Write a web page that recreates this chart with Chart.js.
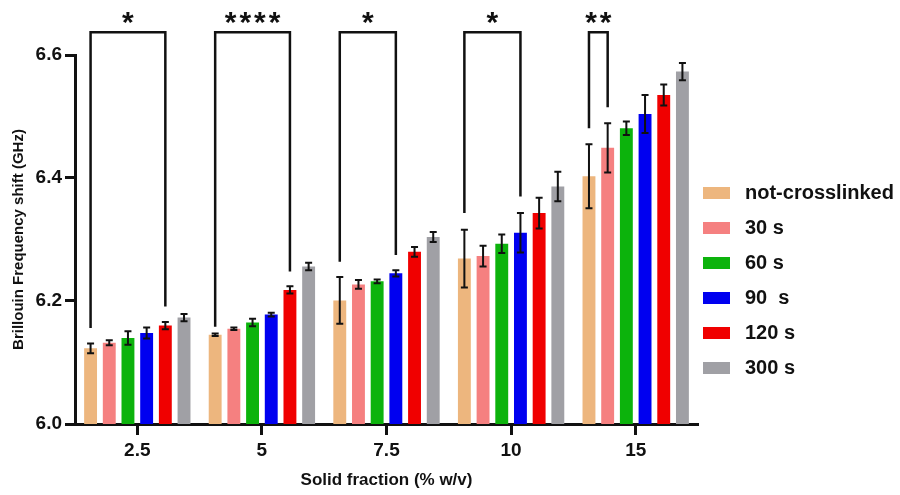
<!DOCTYPE html>
<html>
<head>
<meta charset="utf-8">
<script src="https://cdn.jsdelivr.net/npm/chart.js@4"></script>
<style>
  body { margin: 0; background: #fff; }
  #wrap { position: relative; width: 900px; height: 495px; }
  #legend { position: absolute; left: 703px; top: 175px; font: bold 20px "Liberation Sans", Arial, sans-serif; color: #111; }
  .item { display: flex; align-items: center; height: 35px; white-space: pre; }
  .swatch { width: 27px; height: 12px; margin-right: 15px; }
</style>
</head>
<body>
<div id="wrap">
  <canvas id="chart" width="900" height="495"></canvas>
  <div id="legend"></div>
</div>
<script>
const categories = ['2.5', '5', '7.5', '10', '15'];
const seriesLabels = ['not-crosslinked', '30 s', '60 s', '90  s', '120 s', '300 s'];
const seriesColors = ['#EDB67E', '#F58080', '#0CB30C', '#0000F0', '#F00000', '#A0A0A5'];

const notCrosslinked = [6.123, 6.145, 6.201, 6.269, 6.403];
const s30 = [6.132, 6.155, 6.227, 6.273, 6.449];
const s60 = [6.140, 6.165, 6.232, 6.293, 6.481];
const s90 = [6.148, 6.178, 6.245, 6.311, 6.504];
const s120 = [6.160, 6.218, 6.280, 6.343, 6.535];
const s300 = [6.173, 6.256, 6.304, 6.386, 6.573];

const errNot = [0.008, 0.002, 0.038, 0.047, 0.052];
const err30 = [0.004, 0.002, 0.007, 0.017, 0.040];
const err60 = [0.011, 0.006, 0.003, 0.015, 0.011];
const err90 = [0.009, 0.003, 0.005, 0.032, 0.031];
const err120 = [0.006, 0.006, 0.008, 0.025, 0.017];
const err300 = [0.006, 0.006, 0.008, 0.024, 0.014];

// significance brackets: category, from series, to series
const bracketCat = [0, 1, 2, 3, 4];
const bracketFrom = [0, 0, 0, 0, 0];
const bracketTo = [4, 4, 3, 3, 1];
const bracketTop = [6.637, 6.637, 6.637, 6.637, 6.637];
const bracketLeftEnd = [6.156, 6.158, 6.264, 6.343, 6.481];
const bracketRightEnd = [6.191, 6.248, 6.275, 6.370, 6.515];
const bracketStars = ['*', '****', '*', '*', '**'];

const yTicks = [6.0, 6.2, 6.4, 6.6];

const seriesValues = [notCrosslinked, s30, s60, s90, s120, s300];
const seriesErrors = [errNot, err30, err60, err90, err120, err300];

const FONT = '"Liberation Sans", Arial, sans-serif';

const errorBars = {
  id: 'errorBars',
  afterDatasetsDraw(chart) {
    const { ctx, scales: { y } } = chart;
    ctx.save();
    ctx.strokeStyle = '#111';
    ctx.lineWidth = 2;
    chart.data.datasets.forEach((ds, i) => {
      const meta = chart.getDatasetMeta(i);
      meta.data.forEach((bar, j) => {
        const v = ds.data[j];
        const e = seriesErrors[i][j];
        const top = y.getPixelForValue(v + e);
        const bot = y.getPixelForValue(v - e);
        ctx.beginPath();
        ctx.moveTo(bar.x, top); ctx.lineTo(bar.x, bot);
        ctx.moveTo(bar.x - 3.5, top); ctx.lineTo(bar.x + 3.5, top);
        ctx.moveTo(bar.x - 3.5, bot); ctx.lineTo(bar.x + 3.5, bot);
        ctx.stroke();
      });
    });
    ctx.restore();
  },
};

const brackets = {
  id: 'brackets',
  afterDraw(chart) {
    const { ctx, scales: { y } } = chart;
    ctx.save();
    ctx.strokeStyle = '#111';
    ctx.fillStyle = '#111';
    ctx.lineWidth = 2.5;
    ctx.textAlign = 'center';
    ctx.textBaseline = 'alphabetic';
    ctx.font = 'bold 30px ' + FONT;
    bracketCat.forEach((c, k) => {
      const x1 = chart.getDatasetMeta(bracketFrom[k]).data[c].x;
      const x2 = chart.getDatasetMeta(bracketTo[k]).data[c].x;
      const yt = y.getPixelForValue(bracketTop[k]);
      ctx.beginPath();
      ctx.moveTo(x1, y.getPixelForValue(bracketLeftEnd[k]));
      ctx.lineTo(x1, yt);
      ctx.lineTo(x2, yt);
      ctx.lineTo(x2, y.getPixelForValue(bracketRightEnd[k]));
      ctx.stroke();
      ctx.letterSpacing = '3px';
      ctx.fillText(bracketStars[k], (x1 + x2) / 2 + 1.5, yt);
    });
    ctx.restore();
  },
};

new Chart(document.getElementById('chart'), {
  type: 'bar',
  data: {
    labels: categories,
    datasets: seriesLabels.map((label, i) => ({
      label,
      data: seriesValues[i],
      backgroundColor: seriesColors[i],
      borderWidth: 0,
      categoryPercentage: 0.9,
      barPercentage: 0.69,
    })),
  },
  options: {
    responsive: false,
    animation: false,
    layout: { padding: { top: 55, right: 202, left: 0, bottom: 0 } },
    plugins: { legend: { display: false }, tooltip: { enabled: false } },
    scales: {
      x: {
        border: { display: true, color: '#111', width: 3 },
        grid: { display: true, offset: false, drawOnChartArea: false, drawTicks: true, tickLength: 11, tickWidth: 3, tickColor: '#111' },
        ticks: { color: '#111', font: { family: FONT, size: 19, weight: 'bold' }, padding: 4 },
        title: { display: true, text: 'Solid fraction (% w/v)', color: '#111', font: { family: FONT, size: 17, weight: 'bold' }, padding: { top: 9 } },
        afterFit(scale) { scale.height = 71; },
      },
      y: {
        min: 6.0,
        max: 6.6,
        border: { display: true, color: '#111', width: 3 },
        grid: { display: true, drawOnChartArea: false, drawTicks: true, tickLength: 10, tickWidth: 3, tickColor: '#111' },
        afterBuildTicks(scale) { scale.ticks = yTicks.map((v) => ({ value: v })); },
        ticks: { color: '#111', font: { family: FONT, size: 19, weight: 'bold' }, padding: 3, callback: (v) => Number(v).toFixed(1) },
        title: { display: true, text: 'Brillouin Frequency shift (GHz)', color: '#111', font: { family: FONT, size: 15, weight: 'bold' }, padding: { top: 10, bottom: 4 } },
        afterFit(scale) { scale.width = 75; },
      },
    },
  },
  plugins: [errorBars, brackets],
});

const legendEl = document.getElementById('legend');
seriesLabels.forEach((label, i) => {
  const item = document.createElement('div');
  item.className = 'item';
  const sw = document.createElement('span');
  sw.className = 'swatch';
  sw.style.background = seriesColors[i];
  const txt = document.createElement('span');
  txt.textContent = label;
  item.appendChild(sw);
  item.appendChild(txt);
  legendEl.appendChild(item);
});
</script>
</body>
</html>
